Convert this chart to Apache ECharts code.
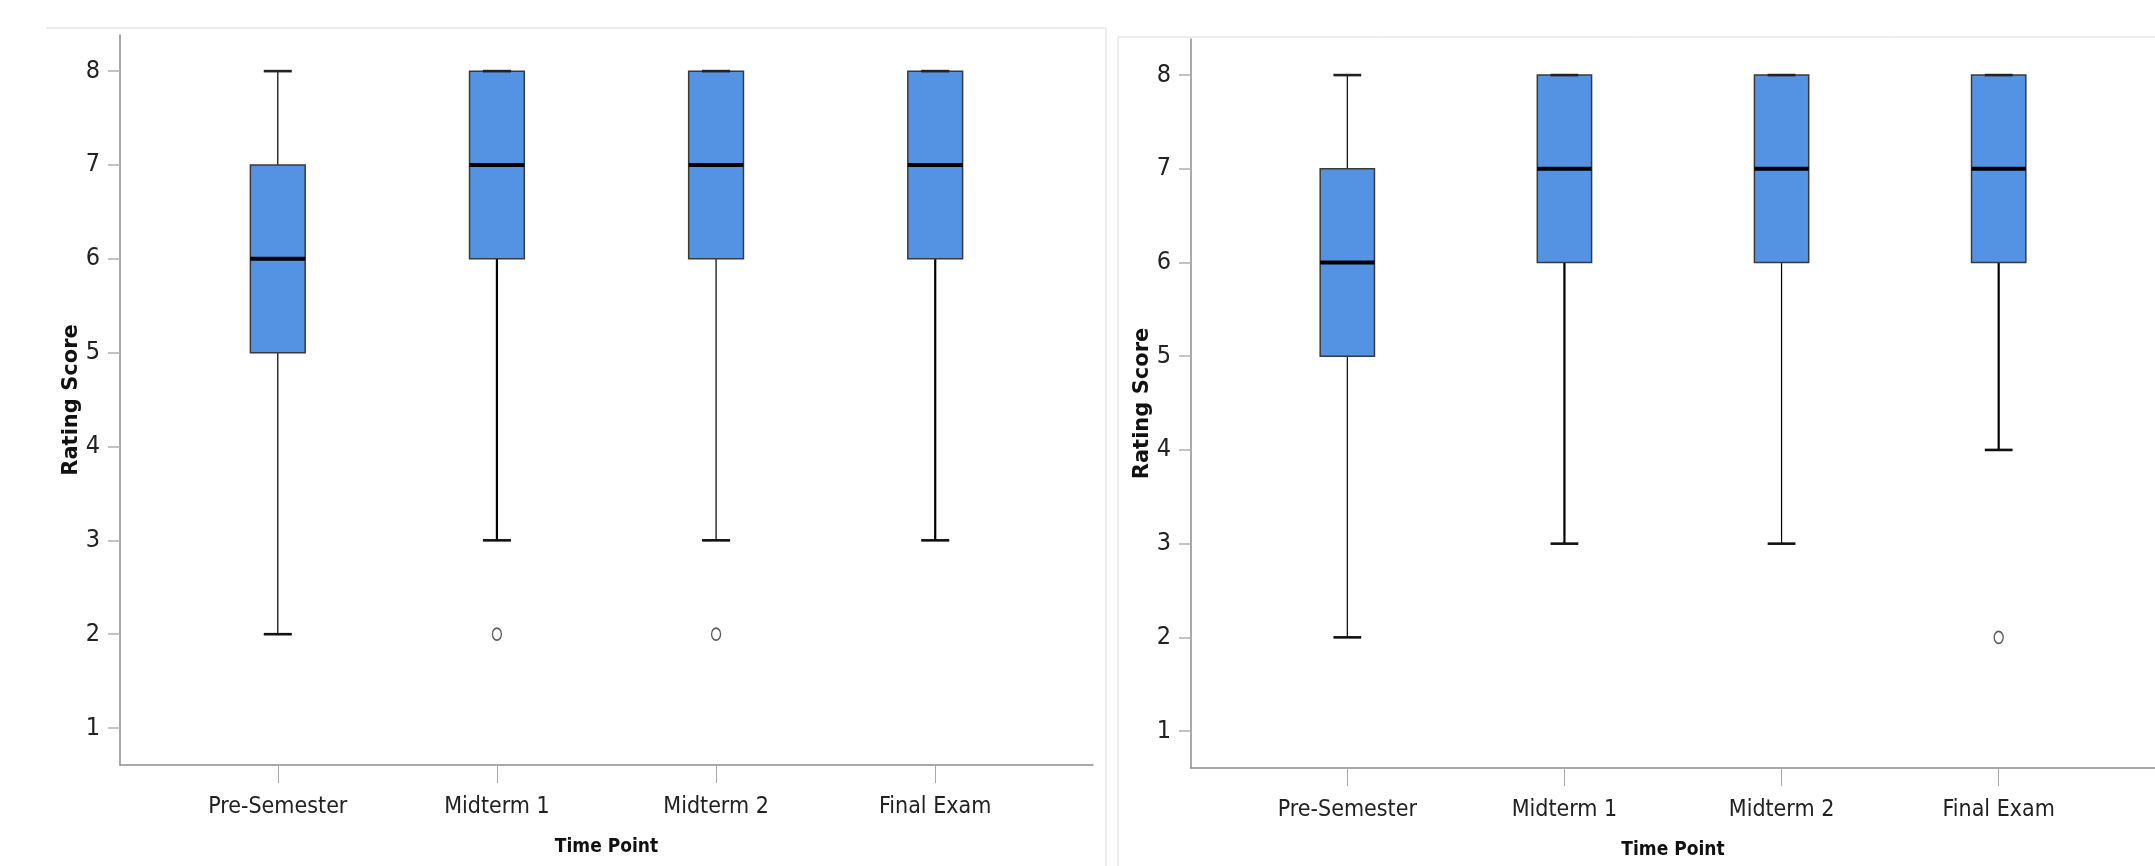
<!DOCTYPE html>
<html>
<head>
<meta charset="utf-8">
<script src="https://cdn.jsdelivr.net/npm/echarts@6/dist/echarts.min.js"></script>
<style>
  html, body { margin: 0; padding: 0; background: #fff; }
  #chart { width: 2155px; height: 866px; }
</style>
</head>
<body>
<div id="chart"></div>
<script>
// ---- data ----
const categories = ['Pre-Semester', 'Midterm 1', 'Midterm 2', 'Final Exam'];
const yTicks = [1, 2, 3, 4, 5, 6, 7, 8];
// [min, Q1, median, Q3, max] per category
const statsLeft  = [[2, 5, 6, 7, 8], [3, 6, 7, 8, 8], [3, 6, 7, 8, 8], [3, 6, 7, 8, 8]];
const statsRight = [[2, 5, 6, 7, 8], [3, 6, 7, 8, 8], [3, 6, 7, 8, 8], [4, 6, 7, 8, 8]];
// [category, value]
const outliersLeft  = [['Midterm 1', 2], ['Midterm 2', 2]];
const outliersRight = [['Final Exam', 2]];
const xTitle = 'Time Point';
const yTitle = 'Rating Score';

// ---- styles ----
const whiskerWidthsLeft  = [1.2, 2.2, 1.2, 2.2];
const whiskerWidthsRight = [1.2, 2.2, 1.2, 2.2];
const narrow = '"DejaVu Sans Condensed", "Liberation Sans Narrow", sans-serif';
const catPos = categories.map((c, i) => i + 1);

function boxData(stats) {
  return stats.map((s, i) => [catPos[i]].concat(s));
}
function outlierData(list) {
  return list.map(o => [categories.indexOf(o[0]) + 1, o[1]]);
}
function renderBox(widths) {
  return function (params, api) {
    const x = api.value(0);
    const lo = api.coord([x, api.value(1)]);
    const q1 = api.coord([x, api.value(2)]);
    const md = api.coord([x, api.value(3)]);
    const q3 = api.coord([x, api.value(4)]);
    const hi = api.coord([x, api.value(5)]);
    const unit = api.size([1, 0])[0];
    const bw = unit * 0.25;
    const cw = unit * 0.128;
    const cx = lo[0];
    const ww = widths[params.dataIndex];
    return {
      type: 'group',
      children: [
        { type: 'line', shape: { x1: cx, y1: q1[1], x2: cx, y2: lo[1] }, style: { stroke: '#000', lineWidth: ww } },
        { type: 'line', shape: { x1: cx, y1: q3[1], x2: cx, y2: hi[1] }, style: { stroke: '#000', lineWidth: ww } },
        { type: 'rect', shape: { x: cx - bw / 2, y: q3[1], width: bw, height: q1[1] - q3[1] },
          style: { fill: '#5493E3', stroke: '#3a3a3a', lineWidth: 1.5 } },
        { type: 'line', shape: { x1: cx - bw / 2, y1: md[1], x2: cx + bw / 2, y2: md[1] }, style: { stroke: '#000', lineWidth: 4 } },
        { type: 'line', shape: { x1: cx - cw / 2, y1: lo[1], x2: cx + cw / 2, y2: lo[1] }, style: { stroke: '#111', lineWidth: 2.6 } },
        { type: 'line', shape: { x1: cx - cw / 2, y1: hi[1], x2: cx + cw / 2, y2: hi[1] }, style: { stroke: '#222', lineWidth: 2.6 } }
      ]
    };
  };
}

function xAxisDef(gridIndex) {
  return {
    type: 'value', gridIndex, min: 0.28, max: 4.72,
    name: xTitle, nameLocation: 'middle', nameGap: 73,
    nameTextStyle: { fontFamily: narrow, fontWeight: 'bold', fontSize: 19, color: '#111' },
    axisLine: { show: true, lineStyle: { color: '#8c8c8c', width: 1.5 } },
    axisTick: { show: true, customValues: catPos, length: 18, lineStyle: { color: '#a8a8a8', width: 1 } },
    axisLabel: { customValues: catPos, margin: 31, fontFamily: narrow, fontSize: 23, color: '#222',
      formatter: v => categories[Math.round(v) - 1] || '' },
    splitLine: { show: false }
  };
}
function yAxisDef(gridIndex) {
  return {
    type: 'value', gridIndex, min: 0.606, max: 8.385,
    name: yTitle, nameLocation: 'middle', nameGap: 38,
    nameTextStyle: { fontFamily: '"DejaVu Sans", sans-serif', fontWeight: 'bold', fontSize: 21, color: '#111' },
    axisLine: { show: true, lineStyle: { color: '#8c8c8c', width: 1.5 } },
    axisTick: { show: true, customValues: yTicks, length: 12, lineStyle: { color: '#b0b0b0', width: 1.5 } },
    axisLabel: { customValues: yTicks, margin: 20, fontFamily: narrow, fontSize: 25, color: '#222' },
    splitLine: { show: false }
  };
}

const chart = echarts.init(document.getElementById('chart'), null, { renderer: 'canvas' });
chart.setOption({
  backgroundColor: '#fff',
  animation: false,
  grid: [
    { left: 120, right: 1062, top: 35, bottom: 101 },
    { left: 1191, right: -10, top: 39, bottom: 98 }
  ],
  xAxis: [xAxisDef(0), xAxisDef(1)],
  yAxis: [yAxisDef(0), yAxisDef(1)],
  graphic: [
    { type: 'polyline', shape: { points: [[46, 28], [1106, 28], [1106, 866]] }, style: { stroke: '#dcdcdc', lineWidth: 1, fill: null } },
    { type: 'polyline', shape: { points: [[2155, 37], [1118, 37], [1118, 866]] }, style: { stroke: '#dcdcdc', lineWidth: 1, fill: null } }
  ],
  series: [
    { type: 'custom', xAxisIndex: 0, yAxisIndex: 0, data: boxData(statsLeft), renderItem: renderBox(whiskerWidthsLeft),
      encode: { x: 0, y: [1, 2, 3, 4, 5] }, clip: false },
    { type: 'custom', xAxisIndex: 1, yAxisIndex: 1, data: boxData(statsRight), renderItem: renderBox(whiskerWidthsRight),
      encode: { x: 0, y: [1, 2, 3, 4, 5] }, clip: false },
    { type: 'scatter', xAxisIndex: 0, yAxisIndex: 0, data: outlierData(outliersLeft), symbol: 'circle', symbolSize: [9, 12],
      itemStyle: { color: '#fff', borderColor: '#333', borderWidth: 1.5 } },
    { type: 'scatter', xAxisIndex: 1, yAxisIndex: 1, data: outlierData(outliersRight), symbol: 'circle', symbolSize: [9, 12],
      itemStyle: { color: '#fff', borderColor: '#333', borderWidth: 1.5 } }
  ]
});
</script>
</body>
</html>
